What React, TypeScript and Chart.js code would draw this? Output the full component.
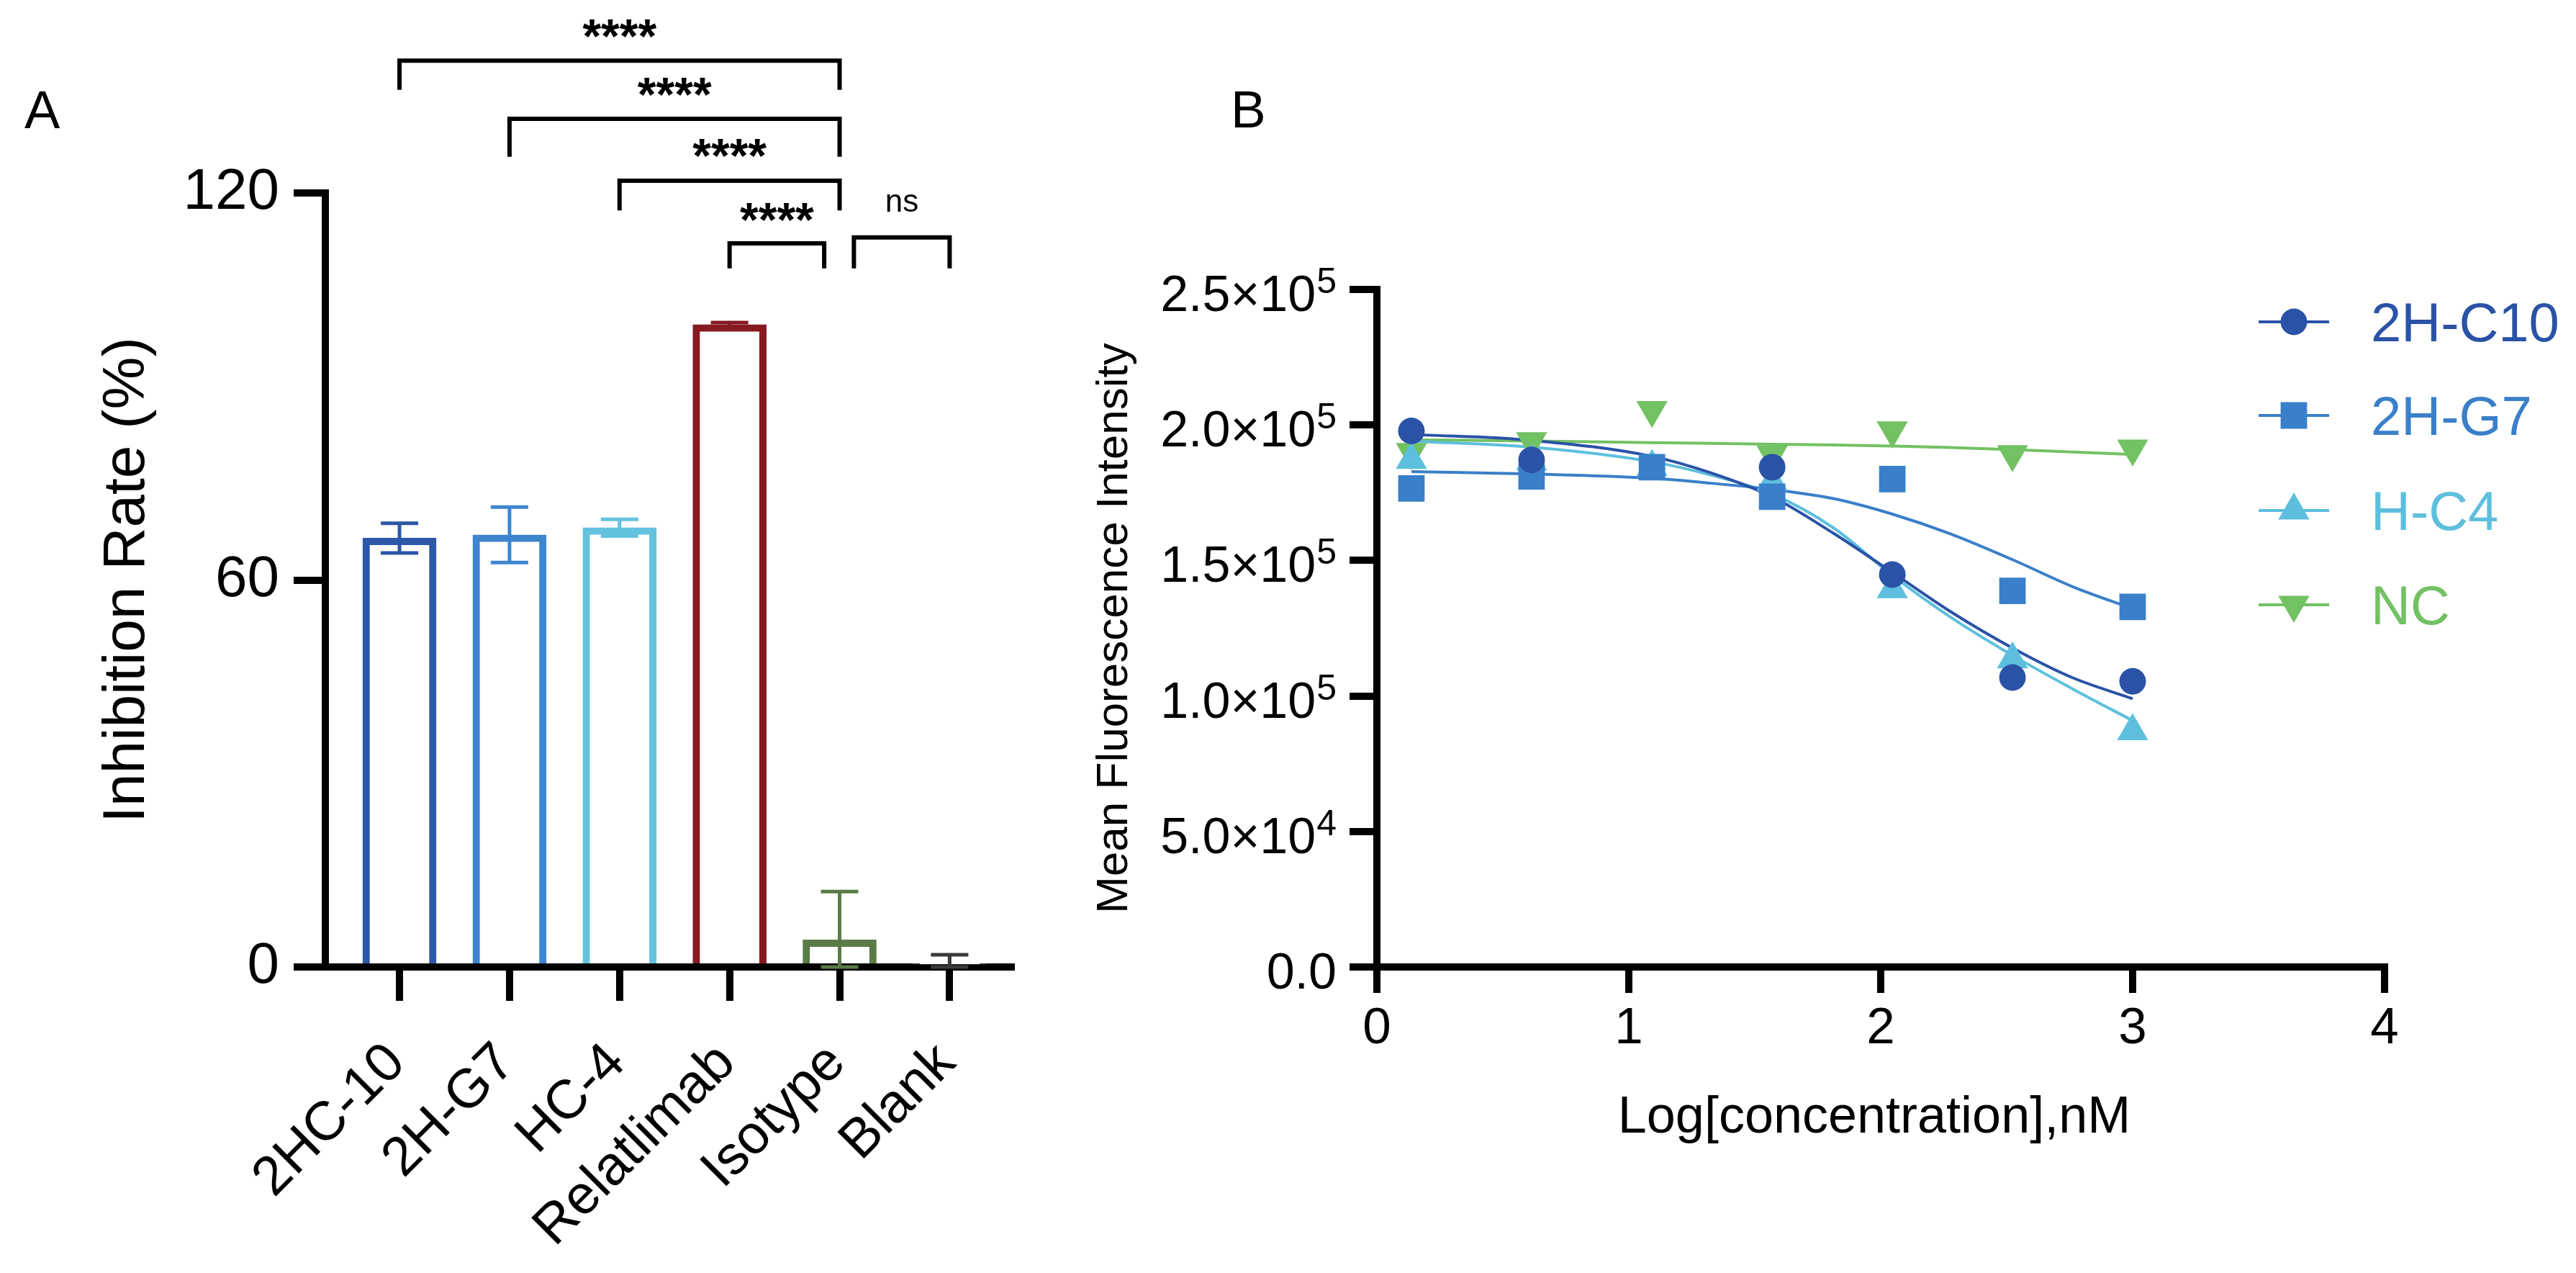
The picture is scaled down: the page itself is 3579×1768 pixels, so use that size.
import React, { useEffect, useRef } from 'react';
import { Chart, registerables } from 'chart.js';

Chart.register(...registerables);

const FONT = "'Liberation Sans', Arial, Helvetica, sans-serif";
Chart.defaults.font.family = FONT;

// ---------- Panel A: inhibition rate per antibody ----------
const categories = ['2HC-10', '2H-G7', 'HC-4', 'Relatlimab', 'Isotype', 'Blank'];
const inhibitionMean = [66.5, 67.0, 68.1, 99.6, 4.2, 0.4];
const inhibitionSd = [2.3, 4.3, 1.3, 0.3, 7.5, 1.5];
const barColors = ['#2D57A8', '#3E85CF', '#63C2DE', '#861A20', '#5B7B46', '#3A3A3A'];
const inhibitionTicks = [0, 60, 120];

// pairwise comparisons (positions in category units, heights in % units)
const compFrom = [0, 1, 2, 3, 4.13];
const compTo = [4, 4, 4, 3.86, 5];
const compBarY = [140.5, 131.5, 121.9, 112.2, 113.1];
const compLegY = [136.0, 125.6, 117.3, 108.3, 108.3];
const compLabels = ['****', '****', '****', '****', 'ns'];
const compLabelY = [145.8, 136.7, 127.3, 117.3, 118.3];

// ---------- Panel B: dose response ----------
const seriesNames = ['2H-C10', '2H-G7', 'H-C4', 'NC'];
const seriesColors = ['#2A52A6', '#3A7FC9', '#5DBFDD', '#72C163'];
const logConc = [0.137, 0.614, 1.092, 1.569, 2.046, 2.523, 3.0];
const mfi2HC10 = [197800, 187100, null, 184400, 144800, 106800, 105400];
const mfi2HG7 = [176600, 181000, 184400, 173500, 180000, 138800, 132900];
const mfiHC4 = [187100, 186500, 184500, 179000, 139400, 113500, 87000];
const mfiNC = [190000, 194000, 205500, 189000, 198000, 189200, 191300];

const curveX = [0.137, 0.614, 1.092, 1.327, 1.569, 1.813, 2.046, 2.274, 2.523, 2.76, 3.0];
const fit2HC10 = [196500, 194300, 188400, 182300, 173500, 160000, 145600, 131300, 117700, 106800, 99000];
const fit2HG7 = [182800, 181900, 180300, 178500, 176200, 172800, 167100, 159900, 150300, 140400, 132200];
const fitHC4 = [194000, 191800, 186400, 181500, 174500, 162000, 144500, 129300, 115000, 102700, 90900];
const fitNC = [194500, 194100, 193500, 193200, 192900, 192600, 192200, 191700, 190900, 190000, 189100];

const mfiTicks = [0, 50000, 100000, 150000, 200000, 250000];
const mfiTickMantissa = ['0.0', '5.0', '1.0', '1.5', '2.0', '2.5'];
const mfiTickExponent = ['', '4', '5', '5', '5', '5'];
const concTicks = [0, 1, 2, 3, 4];

const pointStyles = ['circle', 'rect', 'triangle', 'triangle'];
const pointRadii = [18.5, 26, 25, 25];
const pointRotations = [0, 0, 0, 180];

const axisGrid = (tickLength: number) => ({
  drawOnChartArea: false,
  drawTicks: true,
  offset: false,
  tickLength,
  lineWidth: 10,
  tickWidth: 10,
  color: '#000',
});
const axisBorder = { display: true, width: 10, color: '#000' };

function drawMarker(ctx: CanvasRenderingContext2D, style: string, x: number, y: number, r: number, rot: number) {
  ctx.beginPath();
  if (style === 'circle') {
    ctx.arc(x, y, r, 0, Math.PI * 2);
  } else if (style === 'rect') {
    const s = Math.SQRT1_2 * r;
    ctx.rect(x - s, y - s, 2 * s, 2 * s);
  } else {
    let a = (rot * Math.PI) / 180;
    ctx.moveTo(x + Math.sin(a) * r, y - Math.cos(a) * r);
    a += (2 * Math.PI) / 3;
    ctx.lineTo(x + Math.sin(a) * r, y - Math.cos(a) * r);
    a += (2 * Math.PI) / 3;
    ctx.lineTo(x + Math.sin(a) * r, y - Math.cos(a) * r);
    ctx.closePath();
  }
  ctx.fill();
}

const panelAOverlay = {
  id: 'panelAOverlay',
  afterDraw(chart: any) {
    const { ctx } = chart;
    const x = chart.scales.x;
    const y = chart.scales.y;
    ctx.save();

    // error bars (mean ± SD, clipped at the axis)
    ctx.lineCap = 'butt';
    inhibitionMean.forEach((m, i) => {
      const px = x.getPixelForValue(i);
      const top = y.getPixelForValue(m + inhibitionSd[i]);
      const bot = y.getPixelForValue(Math.max(0, m - inhibitionSd[i]));
      ctx.strokeStyle = barColors[i];
      ctx.lineWidth = 5;
      ctx.beginPath();
      ctx.moveTo(px, top);
      ctx.lineTo(px, bot);
      ctx.moveTo(px - 26, top);
      ctx.lineTo(px + 26, top);
      ctx.moveTo(px - 26, bot);
      ctx.lineTo(px + 26, bot);
      ctx.stroke();
    });

    // significance brackets
    ctx.strokeStyle = '#000';
    ctx.fillStyle = '#000';
    ctx.lineWidth = 6;
    ctx.lineJoin = 'miter';
    compFrom.forEach((f, i) => {
      const x1 = x.getPixelForValue(f);
      const x2 = x.getPixelForValue(compTo[i]);
      const yb = y.getPixelForValue(compBarY[i]);
      const yl = y.getPixelForValue(compLegY[i]);
      ctx.beginPath();
      ctx.moveTo(x1, yl);
      ctx.lineTo(x1, yb);
      ctx.lineTo(x2, yb);
      ctx.lineTo(x2, yl);
      ctx.stroke();
      const isStars = compLabels[i] !== 'ns';
      ctx.font = isStars ? `bold 66px ${FONT}` : `44px ${FONT}`;
      ctx.textAlign = 'center';
      ctx.textBaseline = 'alphabetic';
      const cy = y.getPixelForValue(compLabelY[i]);
      ctx.fillText(compLabels[i], (x1 + x2) / 2, cy + (isStars ? 36 : 11));
    });

    // rotated category labels
    ctx.font = `76px ${FONT}`;
    ctx.textAlign = 'right';
    ctx.textBaseline = 'alphabetic';
    categories.forEach((c, i) => {
      const px = x.getPixelForValue(i);
      ctx.save();
      ctx.translate(px + 11, x.top + 136);
      ctx.rotate(-Math.PI / 4);
      ctx.fillText(c, 0, 0);
      ctx.restore();
    });

    // y-axis title
    ctx.save();
    ctx.translate(200, (y.top + y.bottom) / 2);
    ctx.rotate(-Math.PI / 2);
    ctx.textAlign = 'center';
    ctx.font = `82px ${FONT}`;
    ctx.fillText('Inhibition Rate (%)', 0, 0);
    ctx.restore();

    // panel letter
    ctx.textAlign = 'left';
    ctx.font = `74px ${FONT}`;
    ctx.fillText('A', 34, 178);
    ctx.restore();
  },
};

const panelBOverlay = {
  id: 'panelBOverlay',
  afterDraw(chart: any) {
    const { ctx } = chart;
    const x = chart.scales.x;
    const y = chart.scales.y;
    ctx.save();
    ctx.fillStyle = '#000';

    // y tick labels with superscript exponents
    const right = y.right - 56;
    mfiTicks.forEach((v, i) => {
      const py = y.getPixelForValue(v);
      ctx.textAlign = 'right';
      ctx.textBaseline = 'alphabetic';
      let edge = right;
      if (mfiTickExponent[i]) {
        ctx.font = `50px ${FONT}`;
        ctx.fillText(mfiTickExponent[i], edge, py + 5);
        edge -= ctx.measureText(mfiTickExponent[i]).width + 1;
        ctx.font = `70px ${FONT}`;
        ctx.fillText(mfiTickMantissa[i] + '\u00d710', edge, py + 30);
      } else {
        ctx.font = `70px ${FONT}`;
        ctx.fillText(mfiTickMantissa[i], edge, py + 30);
      }
    });

    // y-axis title
    ctx.save();
    ctx.translate(66, (y.top + y.bottom) / 2);
    ctx.rotate(-Math.PI / 2);
    ctx.textAlign = 'center';
    ctx.font = `62px ${FONT}`;
    ctx.fillText('Mean Fluorescence Intensity', 0, 0);
    ctx.restore();

    // x-axis title
    ctx.textAlign = 'center';
    ctx.font = `72px ${FONT}`;
    ctx.fillText('Log[concentration],nM', (x.left + x.right) / 2 - 9, 1573);

    // legend
    const rows = [447, 577, 709, 840];
    seriesNames.forEach((name, i) => {
      const ry = rows[i];
      ctx.strokeStyle = seriesColors[i];
      ctx.fillStyle = seriesColors[i];
      ctx.lineWidth = 4;
      ctx.beginPath();
      ctx.moveTo(1638, ry);
      ctx.lineTo(1736, ry);
      ctx.stroke();
      drawMarker(ctx, pointStyles[i], 1687, ry, pointRadii[i], pointRotations[i]);
      ctx.textAlign = 'left';
      ctx.font = `76px ${FONT}`;
      ctx.fillText(name, 1794, ry + 27);
    });

    // panel letter
    ctx.fillStyle = '#000';
    ctx.textAlign = 'left';
    ctx.font = `73px ${FONT}`;
    ctx.fillText('B', 210, 177);
    ctx.restore();
  },
};

export default function App() {
  const refA = useRef<HTMLCanvasElement>(null);
  const refB = useRef<HTMLCanvasElement>(null);

  useEffect(() => {
    const chartA = new Chart(refA.current as HTMLCanvasElement, {
      type: 'bar',
      data: {
        datasets: [
          {
            data: categories.map((_, i) => ({ x: i, y: inhibitionMean[i] })),
            backgroundColor: '#ffffff',
            borderColor: barColors,
            borderWidth: 10,
            borderSkipped: 'bottom',
            barThickness: 102,
          } as any,
        ],
      },
      options: {
        responsive: false,
        animation: false,
        events: [],
        layout: { padding: { left: 0, right: 95, top: 268, bottom: 0 } },
        plugins: { legend: { display: false }, tooltip: { enabled: false } },
        scales: {
          x: {
            type: 'linear',
            min: -0.674,
            max: 5.56,
            offset: false,
            z: 1,
            afterBuildTicks: (s: any) => {
              s.ticks = categories.map((_, i) => ({ value: i }));
            },
            afterFit: (s: any) => {
              s.height = 425;
            },
            ticks: { display: false },
            grid: axisGrid(47),
            border: axisBorder,
          },
          y: {
            min: 0,
            max: 120,
            afterBuildTicks: (s: any) => {
              s.ticks = inhibitionTicks.map((v) => ({ value: v }));
            },
            afterFit: (s: any) => {
              s.width = 452;
            },
            ticks: { font: { family: FONT, size: 80 }, color: '#000', padding: 20 },
            grid: axisGrid(44),
            border: axisBorder,
          },
        },
      } as any,
      plugins: [panelAOverlay],
    });

    const pointSeries = [mfi2HC10, mfi2HG7, mfiHC4, mfiNC];
    const fitSeries = [fit2HC10, fit2HG7, fitHC4, fitNC];

    const pointSets = pointSeries.map((vals, i) => ({
      label: seriesNames[i],
      data: logConc
        .map((x, j) => ({ x, y: vals[j] }))
        .filter((p) => p.y !== null),
      showLine: false,
      pointStyle: pointStyles[i],
      pointRadius: pointRadii[i],
      pointRotation: pointRotations[i],
      pointBackgroundColor: seriesColors[i],
      pointBorderWidth: 0,
      borderColor: seriesColors[i],
      backgroundColor: seriesColors[i],
    }));
    const curveSets = fitSeries.map((vals, i) => ({
      label: seriesNames[i] + ' fit',
      data: curveX.map((x, j) => ({ x, y: vals[j] })),
      showLine: true,
      pointRadius: 0,
      borderWidth: 4,
      borderColor: seriesColors[i],
      backgroundColor: seriesColors[i],
      cubicInterpolationMode: 'monotone',
      fill: false,
    }));

    const chartB = new Chart(refB.current as HTMLCanvasElement, {
      type: 'scatter',
      data: { datasets: [...pointSets, ...curveSets] as any },
      options: {
        responsive: false,
        animation: false,
        events: [],
        layout: { padding: { left: 0, right: 266, top: 402, bottom: 0 } },
        plugins: { legend: { display: false }, tooltip: { enabled: false } },
        scales: {
          x: {
            type: 'linear',
            min: 0,
            max: 4,
            afterBuildTicks: (s: any) => {
              s.ticks = concTicks.map((v) => ({ value: v }));
            },
            afterFit: (s: any) => {
              s.height = 425;
            },
            ticks: { font: { family: FONT, size: 71 }, color: '#000', padding: 8, maxRotation: 0 },
            grid: axisGrid(36),
            border: axisBorder,
          },
          y: {
            type: 'linear',
            min: 0,
            max: 250000,
            afterBuildTicks: (s: any) => {
              s.ticks = mfiTicks.map((v) => ({ value: v }));
            },
            afterFit: (s: any) => {
              s.width = 413;
            },
            ticks: { display: false },
            grid: axisGrid(38),
            border: axisBorder,
          },
        },
      } as any,
      plugins: [panelBOverlay],
    });

    return () => {
      chartA.destroy();
      chartB.destroy();
    };
  }, []);

  return (
    <div style={{ position: 'fixed', left: 0, top: 0, width: 3579, height: 1768, background: '#ffffff' }}>
      <canvas
        ref={refA}
        width={1500}
        height={1768}
        style={{ position: 'absolute', left: 0, top: 0, width: 1500, height: 1768 }}
      />
      <canvas
        ref={refB}
        width={2079}
        height={1768}
        style={{ position: 'absolute', left: 1500, top: 0, width: 2079, height: 1768 }}
      />
    </div>
  );
}
